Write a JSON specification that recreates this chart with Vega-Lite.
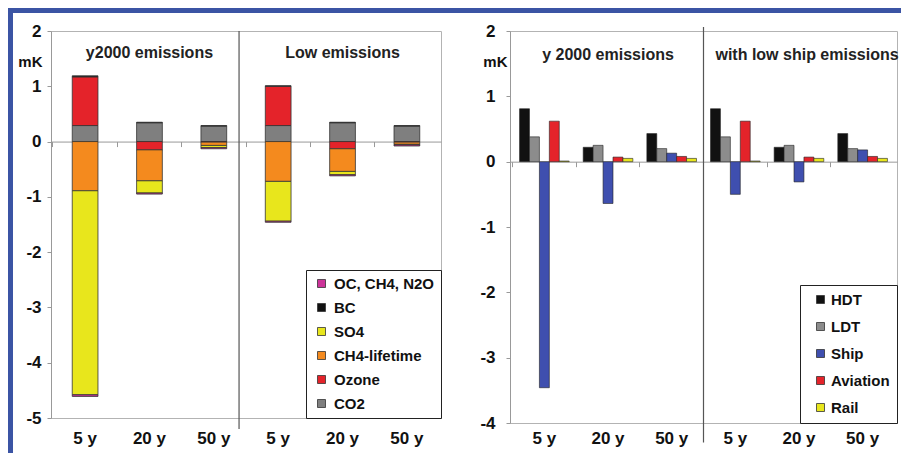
{
  "$schema": "https://vega.github.io/schema/vega-lite/v6.json",
  "padding": {"left": 8, "top": 8, "right": 0, "bottom": 0},
  "background": "white",
  "config": {
    "font": "Liberation Sans",
    "view": {"stroke": null},
    "axis": {"labelFont": "Liberation Sans", "titleFont": "Liberation Sans"},
    "legend": {"labelFont": "Liberation Sans"}
  },
  "spacing": 0,
  "vconcat": [
    {"width": 893, "height": 5, "view": {"fill": "#3B54A4", "stroke": null}, "data": {"values": []}, "mark": "point", "encoding": {}},
    {
      "spacing": 4,
      "hconcat": [
        {"width": 5, "height": 440, "view": {"fill": "#3B54A4", "stroke": null}, "data": {"values": []}, "mark": "point", "encoding": {}},
        {
          "spacing": 7,
          "vconcat": [
            {"width": 1, "height": 1, "data": {"values": []}, "mark": "point", "encoding": {}},
            {
              "spacing": 37,
              "resolve": {"scale": {"color": "independent", "x": "independent", "y": "independent", "xOffset": "independent"}, "legend": {"color": "independent"}},
              "hconcat": [
                {
                  "width": 390,
                  "height": 387,
                  "view": {"stroke": "#b3b3b3", "strokeWidth": 1},
                  "data": {"values": [
                    {"slot": "1|5 y", "comp": "CO2", "v": 0.29, "k": 1},
                    {"slot": "1|5 y", "comp": "Ozone", "v": 0.88, "k": 2},
                    {"slot": "1|5 y", "comp": "CH4-lifetime", "v": -0.89, "k": 3},
                    {"slot": "1|5 y", "comp": "SO4", "v": -3.69, "k": 4},
                    {"slot": "1|5 y", "comp": "BC", "v": 0.02, "k": 5},
                    {"slot": "1|5 y", "comp": "OC, CH4, N2O", "v": -0.03, "k": 6},
                    {"slot": "2|20 y", "comp": "CO2", "v": 0.34, "k": 1},
                    {"slot": "2|20 y", "comp": "Ozone", "v": -0.15, "k": 2},
                    {"slot": "2|20 y", "comp": "CH4-lifetime", "v": -0.56, "k": 3},
                    {"slot": "2|20 y", "comp": "SO4", "v": -0.22, "k": 4},
                    {"slot": "2|20 y", "comp": "BC", "v": 0.01, "k": 5},
                    {"slot": "2|20 y", "comp": "OC, CH4, N2O", "v": -0.02, "k": 6},
                    {"slot": "3|50 y", "comp": "CO2", "v": 0.28, "k": 1},
                    {"slot": "3|50 y", "comp": "Ozone", "v": -0.01, "k": 2},
                    {"slot": "3|50 y", "comp": "CH4-lifetime", "v": -0.06, "k": 3},
                    {"slot": "3|50 y", "comp": "SO4", "v": -0.04, "k": 4},
                    {"slot": "3|50 y", "comp": "BC", "v": 0.01, "k": 5},
                    {"slot": "3|50 y", "comp": "OC, CH4, N2O", "v": -0.02, "k": 6},
                    {"slot": "4|5 y", "comp": "CO2", "v": 0.29, "k": 1},
                    {"slot": "4|5 y", "comp": "Ozone", "v": 0.71, "k": 2},
                    {"slot": "4|5 y", "comp": "CH4-lifetime", "v": -0.72, "k": 3},
                    {"slot": "4|5 y", "comp": "SO4", "v": -0.72, "k": 4},
                    {"slot": "4|5 y", "comp": "BC", "v": 0.01, "k": 5},
                    {"slot": "4|5 y", "comp": "OC, CH4, N2O", "v": -0.02, "k": 6},
                    {"slot": "5|20 y", "comp": "CO2", "v": 0.34, "k": 1},
                    {"slot": "5|20 y", "comp": "Ozone", "v": -0.13, "k": 2},
                    {"slot": "5|20 y", "comp": "CH4-lifetime", "v": -0.41, "k": 3},
                    {"slot": "5|20 y", "comp": "SO4", "v": -0.06, "k": 4},
                    {"slot": "5|20 y", "comp": "BC", "v": 0.01, "k": 5},
                    {"slot": "5|20 y", "comp": "OC, CH4, N2O", "v": -0.02, "k": 6},
                    {"slot": "6|50 y", "comp": "CO2", "v": 0.28, "k": 1},
                    {"slot": "6|50 y", "comp": "Ozone", "v": -0.01, "k": 2},
                    {"slot": "6|50 y", "comp": "CH4-lifetime", "v": -0.04, "k": 3},
                    {"slot": "6|50 y", "comp": "SO4", "v": -0.01, "k": 4},
                    {"slot": "6|50 y", "comp": "BC", "v": 0.01, "k": 5},
                    {"slot": "6|50 y", "comp": "OC, CH4, N2O", "v": -0.02, "k": 6}
                  ]},
                  "resolve": {"axis": {"x": "independent", "y": "shared"}},
                  "encoding": {
                    "y": {"type": "quantitative", "scale": {"domain": [-5, 2], "nice": false, "zero": false},
                      "axis": {"title": "mK", "values": [-5, -4, -3, -2, -1, 0, 1, 2], "labelExpr": "'' + datum.value", "grid": false, "domainColor": "#999999", "tickColor": "#999999", "tickSize": 4, "labelPadding": 6, "labelFontSize": 17, "labelFontWeight": "bold", "labelColor": "#111111", "titleAngle": 0, "titleX": -9, "titleY": 30, "titleAlign": "right", "titleBaseline": "middle", "titleFontSize": 15, "titleFontWeight": "bold", "titleColor": "#111111"}}
                  },
                  "layer": [
                    {
                      "mark": {"type": "bar", "stroke": "#333333", "strokeWidth": 0.8},
                      "encoding": {
                        "x": {"field": "slot", "type": "nominal", "scale": {"paddingInner": 0.6, "paddingOuter": 0.33},
                          "axis": {"title": null, "labelExpr": "split(datum.value, '|')[1]", "labelAngle": 0, "ticks": false, "domain": false, "labelPadding": 12, "labelFontSize": 17, "labelFontWeight": "bold", "labelColor": "#111111"}},
                        "y": {"field": "v", "type": "quantitative", "stack": "zero"},
                        "color": {"field": "comp", "type": "nominal",
                          "scale": {"domain": ["OC, CH4, N2O", "BC", "SO4", "CH4-lifetime", "Ozone", "CO2"], "range": ["#CC3399", "#111111", "#E8E61C", "#F48A1E", "#E4232A", "#7F7F7F"]},
                          "legend": {"title": null, "orient": "bottom-right", "offset": 0, "padding": 6, "rowPadding": 8, "strokeColor": "#222222", "fillColor": "white", "labelFontSize": 15, "labelFontWeight": "bold", "labelColor": "#111111", "symbolType": "square", "symbolSize": 64, "symbolStrokeColor": "#333333", "symbolStrokeWidth": 0.8, "labelOffset": 5, "symbolOffset": 2, "labelLimit": 300}},
                        "order": {"field": "k", "type": "quantitative", "sort": "ascending"}
                      }
                    },
                    {
                      "data": {"values": [{"slot": "3|50 y", "top": 2, "bot": -5.2}]},
                      "mark": {"type": "rule", "color": "#555555", "strokeWidth": 1.2},
                      "encoding": {
                        "x": {"field": "slot", "type": "nominal", "bandPosition": 1.48,
                          "axis": {"orient": "bottom", "offset": -276.43, "labels": false, "title": null, "domain": true, "domainColor": "#999999", "ticks": true, "tickColor": "#999999", "tickSize": 5, "bandPosition": -0.75}},
                        "y": {"field": "top", "type": "quantitative"},
                        "y2": {"field": "bot"}
                      }
                    },
                    {
                      "data": {"values": [{"slot": "2|20 y", "t": "y2000 emissions", "h": 1.6}, {"slot": "5|20 y", "t": "Low emissions", "h": 1.6}]},
                      "mark": {"type": "text", "fontSize": 16, "fontWeight": "bold", "color": "#222222", "baseline": "middle"},
                      "encoding": {
                        "x": {"field": "slot", "type": "nominal", "axis": null},
                        "y": {"field": "h", "type": "quantitative"},
                        "text": {"field": "t"}
                      }
                    }
                  ]
                },
                {
                  "width": 387,
                  "height": 392,
                  "view": {"stroke": "#b3b3b3", "strokeWidth": 1},
                  "data": {"values": [
                    {"slot": "1|5 y", "mode": "HDT", "v": 0.81},
                    {"slot": "1|5 y", "mode": "LDT", "v": 0.38},
                    {"slot": "1|5 y", "mode": "Ship", "v": -3.46},
                    {"slot": "1|5 y", "mode": "Aviation", "v": 0.62},
                    {"slot": "1|5 y", "mode": "Rail", "v": 0.01},
                    {"slot": "2|20 y", "mode": "HDT", "v": 0.22},
                    {"slot": "2|20 y", "mode": "LDT", "v": 0.25},
                    {"slot": "2|20 y", "mode": "Ship", "v": -0.64},
                    {"slot": "2|20 y", "mode": "Aviation", "v": 0.07},
                    {"slot": "2|20 y", "mode": "Rail", "v": 0.05},
                    {"slot": "3|50 y", "mode": "HDT", "v": 0.43},
                    {"slot": "3|50 y", "mode": "LDT", "v": 0.2},
                    {"slot": "3|50 y", "mode": "Ship", "v": 0.13},
                    {"slot": "3|50 y", "mode": "Aviation", "v": 0.08},
                    {"slot": "3|50 y", "mode": "Rail", "v": 0.05},
                    {"slot": "4|5 y", "mode": "HDT", "v": 0.81},
                    {"slot": "4|5 y", "mode": "LDT", "v": 0.38},
                    {"slot": "4|5 y", "mode": "Ship", "v": -0.5},
                    {"slot": "4|5 y", "mode": "Aviation", "v": 0.62},
                    {"slot": "4|5 y", "mode": "Rail", "v": 0.01},
                    {"slot": "5|20 y", "mode": "HDT", "v": 0.22},
                    {"slot": "5|20 y", "mode": "LDT", "v": 0.25},
                    {"slot": "5|20 y", "mode": "Ship", "v": -0.31},
                    {"slot": "5|20 y", "mode": "Aviation", "v": 0.07},
                    {"slot": "5|20 y", "mode": "Rail", "v": 0.05},
                    {"slot": "6|50 y", "mode": "HDT", "v": 0.43},
                    {"slot": "6|50 y", "mode": "LDT", "v": 0.2},
                    {"slot": "6|50 y", "mode": "Ship", "v": 0.18},
                    {"slot": "6|50 y", "mode": "Aviation", "v": 0.08},
                    {"slot": "6|50 y", "mode": "Rail", "v": 0.05}
                  ]},
                  "resolve": {"axis": {"x": "independent", "y": "shared"}},
                  "encoding": {
                    "y": {"type": "quantitative", "scale": {"domain": [-4, 2], "nice": false, "zero": false},
                      "axis": {"title": "mK", "values": [-4, -3, -2, -1, 0, 1, 2], "labelExpr": "'' + datum.value", "grid": false, "domainColor": "#999999", "tickColor": "#999999", "tickSize": 4, "labelPadding": 11, "labelFontSize": 17, "labelFontWeight": "bold", "labelColor": "#111111", "titleAngle": 0, "titleX": -3, "titleY": 30, "titleAlign": "right", "titleBaseline": "middle", "titleFontSize": 15, "titleFontWeight": "bold", "titleColor": "#111111"}}
                  },
                  "layer": [
                    {
                      "mark": {"type": "bar", "stroke": "#222222", "strokeWidth": 0.6},
                      "encoding": {
                        "x": {"field": "slot", "type": "nominal", "scale": {"paddingInner": 0.22, "paddingOuter": 0.15},
                          "axis": {"title": null, "labelExpr": "split(datum.value, '|')[1]", "labelAngle": 0, "ticks": false, "domain": false, "labelPadding": 7, "labelFontSize": 17, "labelFontWeight": "bold", "labelColor": "#111111"}},
                        "xOffset": {"field": "mode", "type": "nominal", "scale": {"domain": ["HDT", "LDT", "Ship", "Aviation", "Rail"], "paddingInner": 0, "paddingOuter": 0}},
                        "y": {"field": "v", "type": "quantitative"},
                        "color": {"field": "mode", "type": "nominal",
                          "scale": {"domain": ["HDT", "LDT", "Ship", "Aviation", "Rail"], "range": ["#111111", "#8C8C8C", "#3F4FAF", "#E4232A", "#E8E61C"]},
                          "legend": {"title": null, "orient": "bottom-right", "offset": 0, "padding": 7, "rowPadding": 11, "strokeColor": "#222222", "fillColor": "white", "labelFontSize": 15, "labelFontWeight": "bold", "labelColor": "#111111", "symbolType": "square", "symbolSize": 64, "symbolStrokeColor": "#333333", "symbolStrokeWidth": 0.8, "labelOffset": 3, "symbolOffset": 6, "labelLimit": 300}}
                      }
                    },
                    {
                      "data": {"values": [{"slot": "3|50 y", "top": 2.06, "bot": -4.3}]},
                      "mark": {"type": "rule", "color": "#555555", "strokeWidth": 1.2},
                      "encoding": {
                        "x": {"field": "slot", "type": "nominal", "bandPosition": 1.141,
                          "axis": {"orient": "bottom", "offset": -261.33, "labels": false, "title": null, "domain": true, "domainColor": "#999999", "ticks": true, "tickColor": "#999999", "tickSize": 5, "bandPosition": -0.141}},
                        "y": {"field": "top", "type": "quantitative"},
                        "y2": {"field": "bot"}
                      }
                    },
                    {
                      "data": {"values": [{"slot": "2|20 y", "t": "y 2000 emissions", "h": 1.64}]},
                      "mark": {"type": "text", "fontSize": 16, "fontWeight": "bold", "color": "#222222", "baseline": "middle"},
                      "encoding": {
                        "x": {"field": "slot", "type": "nominal", "axis": null},
                        "y": {"field": "h", "type": "quantitative"},
                        "text": {"field": "t"}
                      }
                    },
                    {
                      "data": {"values": [{"slot": "4|5 y", "t": "with low ship emissions", "h": 1.64}]},
                      "mark": {"type": "text", "fontSize": 16, "fontWeight": "bold", "color": "#222222", "baseline": "middle", "align": "left"},
                      "encoding": {
                        "x": {"field": "slot", "type": "nominal", "bandPosition": 0.1, "axis": null},
                        "y": {"field": "h", "type": "quantitative"},
                        "text": {"field": "t"}
                      }
                    }
                  ]
                }
              ]
            }
          ]
        }
      ]
    }
  ]
}
